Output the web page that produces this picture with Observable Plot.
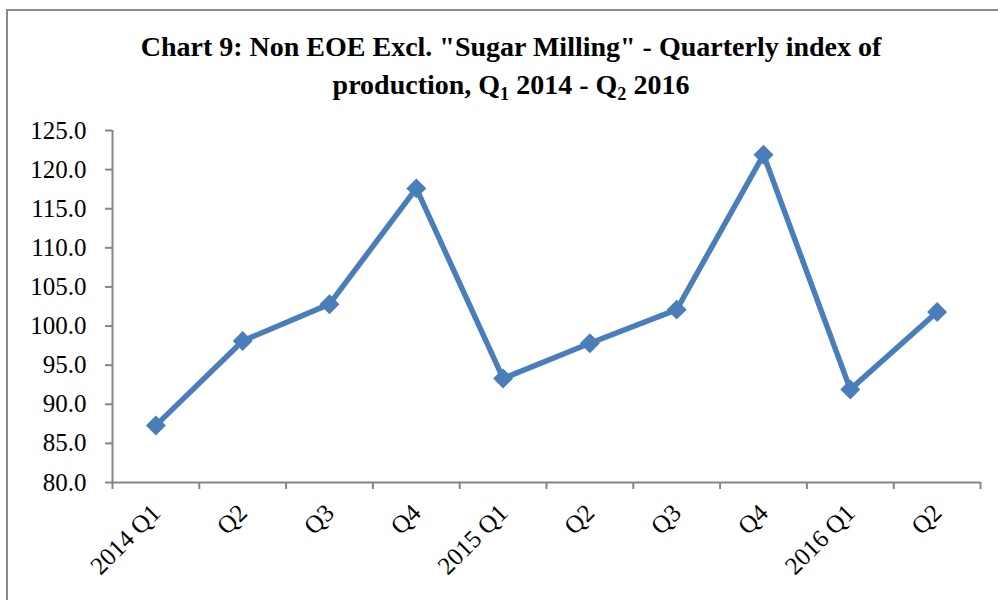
<!DOCTYPE html>
<html>
<head>
<meta charset="utf-8">
<script src="https://cdn.jsdelivr.net/npm/d3@7"></script>
<script src="https://cdn.jsdelivr.net/npm/@observablehq/plot@0.6"></script>
<style>
  html, body { margin: 0; padding: 0; background: #fff; }
  #wrap { position: relative; width: 998px; height: 600px; overflow: hidden; background: #fff; }
  #frame { position: absolute; left: 6px; top: 9px; right: -20px; bottom: -20px;
           border-left: 2px solid #8a8a8a; border-top: 2px solid #8a8a8a; }
  #title { position: absolute; left: 0; width: 1022px; top: 28px; text-align: center;
           font-family: "Liberation Serif", "Times New Roman", serif; font-weight: bold;
           font-size: 28px; line-height: 38px; color: #000; }
  #title .sub { font-size: 0.65em; position: relative; top: 0.35em; }
  #chart { position: absolute; left: 0; top: 110px; }
</style>
</head>
<body>
<div id="wrap">
  <div id="frame"></div>
  <div id="title">Chart 9: Non EOE Excl. "Sugar Milling" - Quarterly index of<br>production, Q<span class="sub">1</span> 2014 - Q<span class="sub">2</span> 2016</div>
  <div id="chart"></div>
</div>
<script>
const categories = ["2014 Q1", "Q2", "Q3", "Q4", "2015 Q1", "Q2", "Q3", "Q4", "2016 Q1", "Q2"];
const values = [87.3, 98.1, 102.8, 117.6, 93.3, 97.8, 102.1, 121.9, 91.9, 101.8];
const yTicks = [80, 85, 90, 95, 100, 105, 110, 115, 120, 125];

const data = categories.map((c, i) => ({pos: i + 0.5, label: c, value: values[i]}));
const boundaries = d3.range(categories.length + 1);

const axisGrey = "#868686";
const blue = "#4a7ebb";

const chart = Plot.plot({
  width: 998,
  height: 490,
  marginTop: 20,
  marginBottom: 118,
  marginLeft: 112,
  marginRight: 18,
  style: {fontFamily: "'Liberation Serif', 'Times New Roman', serif", fontSize: "25px", color: "#000", background: "transparent"},
  x: {domain: [0, categories.length], axis: null},
  y: {domain: [80, 125], axis: null},
  marks: [
    Plot.axisY({ticks: yTicks, tickFormat: () => "", tickSize: 7, label: null,
                stroke: axisGrey, strokeWidth: 2}),
    Plot.text(yTicks, {y: d => d, frameAnchor: "left", text: d => d.toFixed(1),
                       textAnchor: "end", lineAnchor: "middle", dx: -26, fontSize: 25, fill: "#000"}),
    Plot.axisX({ticks: boundaries, tickFormat: () => "", tickSize: 7, label: null,
                stroke: axisGrey, strokeWidth: 2}),
    Plot.ruleX([0], {stroke: axisGrey, strokeWidth: 2}),
    Plot.ruleY([80], {stroke: axisGrey, strokeWidth: 2}),
    Plot.text(data, {x: "pos", frameAnchor: "bottom", text: "label", rotate: -45,
                     textAnchor: "end", lineAnchor: "bottom", dx: 6, dy: 32, fontSize: 25, fill: "#000"}),
    Plot.line(data, {x: "pos", y: "value", stroke: blue, strokeWidth: 5.5, strokeLinejoin: "miter"}),
    Plot.dot(data, {x: "pos", y: "value", symbol: "diamond2", r: 9, fill: blue, stroke: "none"})
  ]
});
document.getElementById("chart").appendChild(chart);
</script>
</body>
</html>
